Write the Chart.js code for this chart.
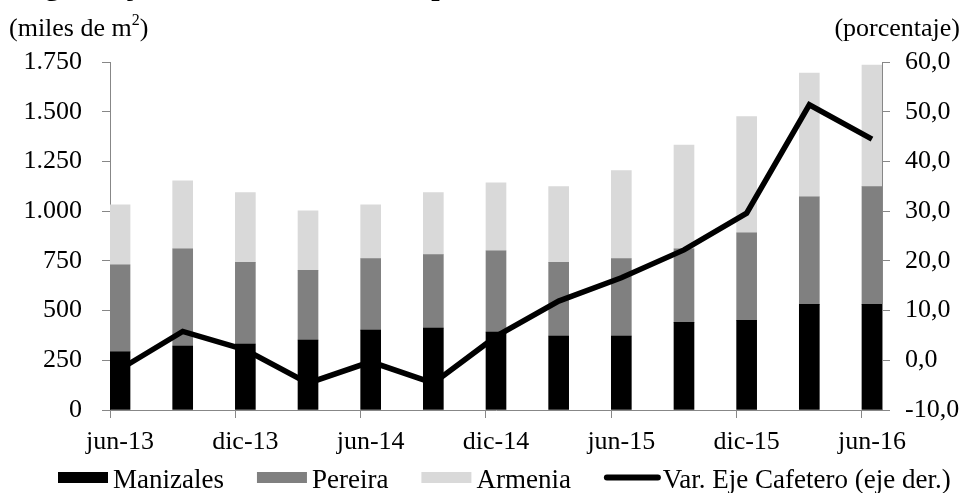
<!DOCTYPE html>
<html lang="es">
<head>
<meta charset="utf-8">
<title>Eje Cafetero - área aprobada</title>
<script src="https://cdn.jsdelivr.net/npm/chart.js@4.4.1/dist/chart.umd.min.js"></script>
<style>
  html, body { margin: 0; padding: 0; background: #fff; overflow: hidden; }
  #wrap { position: relative; width: 962px; height: 493px; }
</style>
</head>
<body>
<div id="wrap"><canvas id="chart"></canvas></div>
<script>
const periods = ['jun-13', 'sep-13', 'dic-13', 'mar-14', 'jun-14', 'sep-14', 'dic-14',
  'mar-15', 'jun-15', 'sep-15', 'dic-15', 'mar-16', 'jun-16'];
const manizales = [292, 322, 332, 352, 402, 412, 392, 372, 372, 441, 451, 531, 531];
const pereira = [438, 489, 410, 350, 359, 369, 409, 370, 390, 370, 440, 541, 592];
const armenia = [302, 342, 351, 300, 271, 312, 342, 381, 442, 521, 584, 622, 612];
const variacion = [-1.8, 5.8, 2.1, -4.6, -0.3, -4.6, 4.8, 11.9, 16.6, 22.2, 29.6, 51.4, 44.5];
const leftRange = [0, 1750, 250];
const rightRange = [-10, 60, 10];
const labelStep = 2;

const serif = '"Liberation Serif", "Times New Roman", serif';
const axisGray = '#878787';
const half = 0.16; // half a bar, in category units

const toPoints = (arr) => arr.map((v, i) => ({ x: i, y: v }));
const thousands = (v) => (v >= 1000 ? Math.floor(v / 1000) + '.' + String(v % 1000).padStart(3, '0') : String(v));
const labelTicks = () => periods.map((p, i) => i).filter((i) => i % labelStep === 0);

// titles, axis units and the legend row
const captions = {
  id: 'captions',
  afterDraw(chart) {
    const { ctx } = chart;
    ctx.save();
    ctx.fillStyle = '#000';
    ctx.textBaseline = 'alphabetic';
    ctx.textAlign = 'left';
    ctx.font = 'bold 30px ' + serif;
    ctx.fillText('Región Eje Cafetero: área total aprobada de vivienda', 10, -5);

    ctx.font = '26px ' + serif;
    const base = 36;
    let x = 9;
    ctx.fillText('(miles de m', x, base);
    x += ctx.measureText('(miles de m').width;
    ctx.font = '16px ' + serif;
    ctx.fillText('2', x, base - 11);
    x += ctx.measureText('2').width;
    ctx.font = '26px ' + serif;
    ctx.fillText(')', x, base);
    ctx.textAlign = 'right';
    ctx.fillText('(porcentaje)', 960, base);

    // legend
    ctx.textAlign = 'left';
    ctx.font = '27px ' + serif;
    let lx = 58;
    const midY = 477.5;
    chart.data.datasets.forEach((ds) => {
      let textX = lx + 55;
      if (ds.type === 'line') {
        ctx.strokeStyle = ds.borderColor;
        ctx.lineWidth = 6;
        ctx.lineCap = 'round';
        ctx.beginPath();
        ctx.moveTo(lx + 3, midY);
        ctx.lineTo(lx + 54, midY);
        ctx.stroke();
        textX = lx + 59;
      } else {
        ctx.fillStyle = ds.backgroundColor;
        ctx.fillRect(lx, midY - 5.5, 50, 11);
      }
      ctx.fillStyle = '#000';
      ctx.fillText(ds.label, textX, 488);
      lx = textX + ctx.measureText(ds.label).width + 33;
    });
    ctx.restore();
  },
};

new Chart(document.getElementById('chart'), {
  data: {
    datasets: [{
      type: 'bar',
      label: 'Manizales',
      data: toPoints(manizales),
      backgroundColor: '#000000',
      xAxisID: 'x',
      stack: 'eje',
      order: 1,
    }, {
      type: 'bar',
      label: 'Pereira',
      data: toPoints(pereira),
      backgroundColor: '#808080',
      xAxisID: 'x',
      stack: 'eje',
      order: 1,
    }, {
      type: 'bar',
      label: 'Armenia',
      data: toPoints(armenia),
      backgroundColor: '#d9d9d9',
      xAxisID: 'x',
      stack: 'eje',
      order: 1,
    }, {
      type: 'line',
      label: 'Var. Eje Cafetero (eje der.)',
      data: toPoints(variacion),
      xAxisID: 'x',
      yAxisID: 'y1',
      borderColor: '#000000',
      backgroundColor: '#000000',
      borderWidth: 5.5,
      pointRadius: 0,
      tension: 0,
      order: 0,
    }],
  },
  options: {
    responsive: true,
    maintainAspectRatio: false,
    animation: false,
    barThickness: 20,
    layout: { padding: { top: 62, left: 0, right: 0, bottom: 30 } },
    plugins: {
      tooltip: { enabled: false },
      legend: { display: false },
    },
    scales: {
      xt: {
        type: 'linear',
        position: 'bottom',
        weight: 0,
        offset: false,
        min: -half,
        max: periods.length - 1 + half,
        afterBuildTicks: (scale) => { scale.ticks = labelTicks().map((i) => ({ value: i - half })); },
        afterFit: (scale) => { scale.height = 8; },
        ticks: { display: false },
        grid: { drawOnChartArea: false, drawTicks: true, tickLength: 8, color: axisGray, offset: false },
        border: { display: true, color: axisGray, width: 1 },
      },
      x: {
        type: 'linear',
        position: 'bottom',
        weight: 1,
        offset: false,
        min: -half,
        max: periods.length - 1 + half,
        afterBuildTicks: (scale) => { scale.ticks = labelTicks().map((i) => ({ value: i })); },
        afterFit: (scale) => { scale.height = 45; },
        ticks: {
          padding: 9,
          maxRotation: 0,
          autoSkip: false,
          color: '#000',
          font: { family: serif, size: 26 },
          callback: (v) => periods[v],
        },
        grid: { display: false, drawTicks: false, offset: false },
        border: { display: false },
      },
      y: {
        position: 'left',
        stacked: true,
        min: leftRange[0],
        max: leftRange[1],
        afterFit: (scale) => { scale.width = 110; },
        ticks: {
          stepSize: leftRange[2],
          padding: 20,
          color: '#000',
          font: { family: serif, size: 26 },
          callback: (v) => thousands(v),
        },
        grid: { drawOnChartArea: false, tickLength: 8, color: axisGray },
        border: { display: true, color: axisGray, width: 1 },
      },
      y1: {
        position: 'right',
        min: rightRange[0],
        max: rightRange[1],
        afterFit: (scale) => { scale.width = 80; },
        ticks: {
          stepSize: rightRange[2],
          padding: 15,
          color: '#000',
          font: { family: serif, size: 26 },
          callback: (v) => v.toFixed(1).replace('.', ','),
        },
        grid: { drawOnChartArea: false, tickLength: 8, color: axisGray },
        border: { display: true, color: axisGray, width: 1 },
      },
    },
  },
  plugins: [captions],
});
</script>
</body>
</html>
